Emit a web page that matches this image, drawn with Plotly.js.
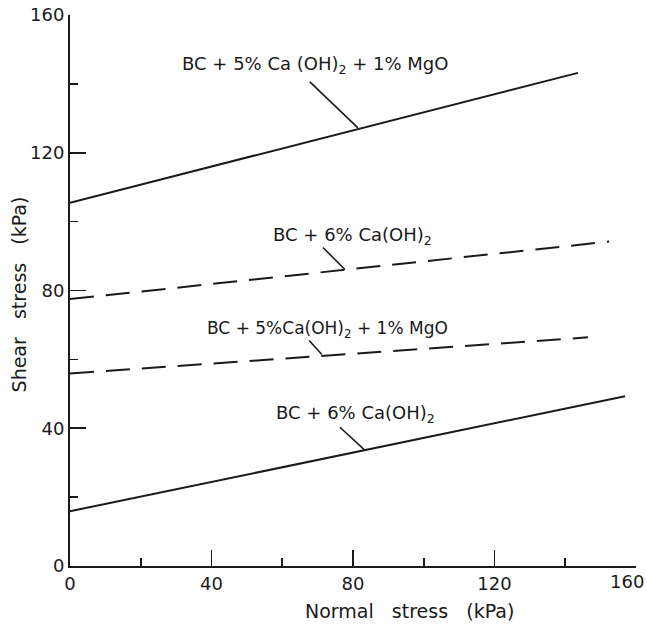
<!DOCTYPE html>
<html>
<head>
<meta charset="utf-8">
<script src="https://cdn.plot.ly/plotly-3.0.1.min.js"></script>
<style>html,body{margin:0;padding:0;background:#fff;}#chart{width:647px;height:624px;}</style>
</head>
<body>
<div id="chart"></div>
<script>
// Data (kPa)
const mgSolidX = [0, 143.6];
const mgSolidY = [105.5, 143.2];
const caDashX = [0, 152.4];
const caDashY = [77.5, 94.2];
const mgDashX = [0, 146.4];
const mgDashY = [55.9, 66.4];
const caSolidX = [0, 156.9];
const caSolidY = [15.9, 49.3];

const labelMgTop = 'BC + 5% Ca (OH)<sub>2</sub> + 1% MgO';
const labelMgMid = 'BC + 5%Ca(OH)<sub>2</sub> + 1% MgO';
const labelCa = 'BC + 6% Ca(OH)<sub>2</sub>';
const tickVals = [0, 40, 80, 120, 160];
const yTickText = ['0', '40', '80', '120', '160'];
// last x label is drawn separately so it stays inside the page edge, as in the reference
const xTickText = ['0', '40', '80', '120', ''];
const xLastTick = '160';

const FONT = 'DejaVu Sans, sans-serif';
const INK = '#1a1a1a';

function line(x, y, dash) {
  return {x: x, y: y, mode: 'lines', type: 'scatter', hoverinfo: 'skip',
    line: {color: INK, width: 2, dash: dash}};
}

const traces = [
  line(mgSolidX, mgSolidY, 'solid'),
  line(caDashX, caDashY, '24px,12px'),
  line(mgDashX, mgDashY, '24px,12px'),
  line(caSolidX, caSolidY, 'solid')
];

function label(text, x, y, size) {
  return {text: text, x: x, y: y, xref: 'x', yref: 'y', showarrow: false,
    xanchor: 'center', yanchor: 'middle', font: {family: FONT, size: size, color: INK}};
}
function leader(x0, y0, x1, y1) {
  return {type: 'line', xref: 'x', yref: 'y', x0: x0, y0: y0, x1: x1, y1: y1,
    line: {color: INK, width: 1.6}};
}

const axisCommon = {
  range: [0, 160], tickvals: tickVals,
  showgrid: false, zeroline: false, showline: true, linecolor: INK, linewidth: 2,
  ticks: 'inside', ticklen: 16, tickwidth: 1.6, tickcolor: INK,
  minor: {dtick: 20, tick0: 0, ticks: 'inside', ticklen: 8, tickwidth: 1.6, tickcolor: INK},
  tickfont: {family: FONT, size: 18, color: INK}, fixedrange: true
};

const layout = {
  width: 647, height: 624,
  margin: {l: 70, r: 11, t: 15, b: 58},
  paper_bgcolor: '#fff', plot_bgcolor: '#fff',
  showlegend: false,
  font: {family: FONT, color: INK, size: 18},
  xaxis: Object.assign({}, axisCommon, {ticktext: xTickText}),
  yaxis: Object.assign({}, axisCommon, {ticktext: yTickText}),
  annotations: [
    label(labelMgTop, 69.3, 145.5, 18),
    label(labelCa, 79.9, 95.9, 18),
    label(labelMgMid, 72.9, 68.7, 17),
    label(labelCa, 80.6, 44.1, 18),
    {text: xLastTick, xref: 'paper', yref: 'paper', x: 1.0177, y: -0.0285,
      showarrow: false, xanchor: 'right', yanchor: 'middle',
      font: {family: FONT, size: 18, color: INK}},
    {text: 'Normal   stress   (kPa)', xref: 'paper', yref: 'paper', x: 0.599, y: -0.0815,
      showarrow: false, xanchor: 'center', yanchor: 'middle',
      font: {family: FONT, size: 19, color: INK}},
    {text: 'Shear   stress   (kPa)', xref: 'paper', yref: 'paper', x: -0.09, y: 0.493,
      textangle: -90, showarrow: false, xanchor: 'center', yanchor: 'middle',
      font: {family: FONT, size: 19, color: INK}}
  ],
  shapes: [
    leader(67.8, 140.6, 81.4, 127.2),
    leader(71.5, 92.5, 77.7, 86.1),
    leader(67.6, 65.5, 71.2, 61.4),
    leader(76.3, 40.3, 83.4, 33.6)
  ]
};

Plotly.newPlot('chart', traces, layout, {displayModeBar: false, staticPlot: true});
</script>
</body>
</html>
